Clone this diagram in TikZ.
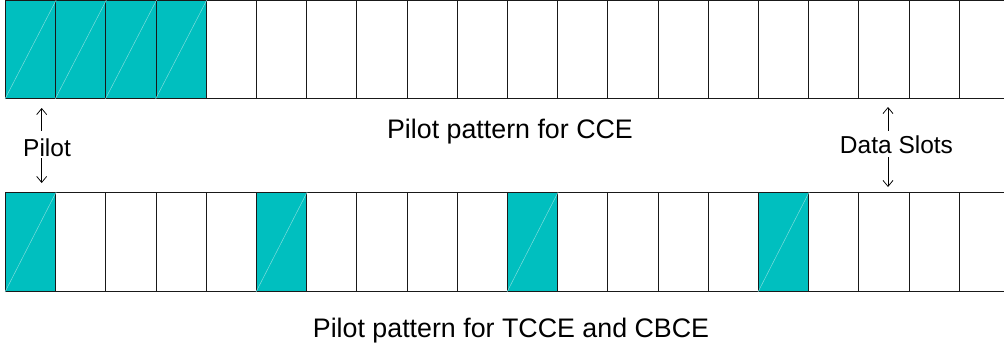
\documentclass[tikz,border=0pt]{standalone}
\usepackage{fontspec}
\setmainfont{Liberation Sans}
\usetikzlibrary{arrows.meta}
\definecolor{pilotcyan}{RGB}{0,191,191}
\definecolor{pilothatch}{RGB}{125,220,220}
\begin{document}
\begin{tikzpicture}
[x=1pt,y=-1pt,
  slotdecorate/.style={shape=rectangle,draw=black!90,line width=1pt,
    minimum width=50.2pt,minimum height=98pt,inner sep=0pt,anchor=north west},
  pilotdecorate/.style={slotdecorate,fill=pilotcyan},
  hatchdecorate/.style={pilothatch,line width=0.5pt},
  arrowdecorate/.style={-{Straight Barb[length=6pt,width=10pt]},line width=0.75pt},
  labeldecorate/.style={inner sep=0pt,anchor=base,font=\fontsize{24.5}{29}\selectfont},
  titledecorate/.style={inner sep=0pt,anchor=base,font=\fontsize{26.8}{32}\selectfont}]
\useasboundingbox (0,0) rectangle (1004,343);
%% upper row: four pilots in a block, then data slots
\foreach \i in {0,...,19}
{
  \ifnum\i<4 \tikzset{slotkind/.style={pilotdecorate}}%
  \else \tikzset{slotkind/.style={slotdecorate}}\fi
  \node (t\i) at ({5+50.2*\i},0) [slotkind] {};
}
%% lower row: one pilot every fifth slot
\foreach \i in {0,...,19}
{
  \pgfmathtruncatemacro{\r}{mod(\i,5)}
  \ifnum\r=0 \tikzset{slotkind/.style={pilotdecorate}}%
  \else \tikzset{slotkind/.style={slotdecorate}}\fi
  \node (b\i) at ({5+50.2*\i},192) [slotkind,minimum height=99pt] {};
}
%% faint diagonals across the pilot slots
\foreach \cellname in {t0, t1, t2, t3, b0, b5, b10, b15}
  \draw[hatchdecorate] (\cellname.south west) -- (\cellname.north east);
%% texts
\node (pilot) at (47,156) [labeldecorate] {Pilot};
\node (data) at (896.5,153) [labeldecorate] {Data Slots};
\node (ccetitle) at (510,138) [titledecorate] {Pilot pattern for CCE};
\node (cbcetitle) at (511,337) [titledecorate] {Pilot pattern for TCCE and CBCE};
%% arrows from the labels to the rows
\coordinate (pilotup) at ([xshift=-5.3pt]pilot.north);
\coordinate (pilotdown) at ([xshift=-5.3pt]pilot.south);
\coordinate (dataup) at ([xshift=-8.5pt]data.north);
\coordinate (datadown) at ([xshift=-8.5pt]data.south);
\draw[arrowdecorate,shorten <=7.5pt,shorten >=9pt] (pilotup) -- (pilotup |- t0.south);
\draw[arrowdecorate,shorten <=2pt,shorten >=9pt] (pilotdown) -- (pilotdown |- b0.north);
\draw[arrowdecorate,shorten <=4.5pt,shorten >=8pt] (dataup) -- (dataup |- t17.south);
\draw[arrowdecorate,shorten <=4pt,shorten >=5pt] (datadown) -- (datadown |- b17.north);
\end{tikzpicture}
\end{document}
